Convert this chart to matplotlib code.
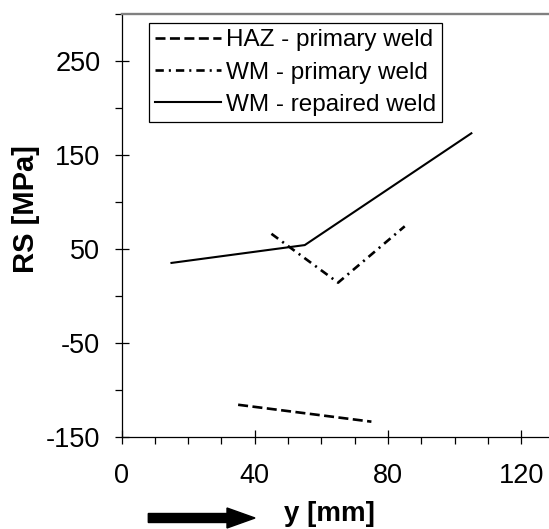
import matplotlib
matplotlib.use("Agg")
import matplotlib.pyplot as plt
from matplotlib.patches import FancyArrow
from matplotlib.ticker import MultipleLocator, FixedLocator

plt.rcParams['font.family'] = ['Liberation Sans', 'DejaVu Sans']
plt.rcParams['lines.scale_dashes'] = False
plt.rcParams['axes.unicode_minus'] = False

# Data
haz_primary_x = [35, 75]
haz_primary_y = [-116, -134]
wm_primary_x = [45, 65, 85]
wm_primary_y = [66, 14, 74]
wm_repaired_x = [15, 55, 105]
wm_repaired_y = [35, 54, 173]

labels = ["HAZ - primary weld", "WM - primary weld", "WM - repaired weld"]
xticks = [0, 40, 80, 120]
yticks = [-150, -50, 50, 150, 250]

W, H = 549, 529
fig = plt.figure(figsize=(W / 100, H / 100), dpi=100)
ax = fig.add_axes([121.5 / W, 1 - 436.7 / H, (548 - 121.5) / W, (436.7 - 14) / H])

l1, = ax.plot(haz_primary_x, haz_primary_y, color='black', lw=1.9, label=labels[0])
l1.set_dashes([7.2, 3.2])
l2, = ax.plot(wm_primary_x, wm_primary_y, color='black', lw=1.9, label=labels[1])
l2.set_dashes([6.0, 3.6, 1.5, 3.6])
l3, = ax.plot(wm_repaired_x, wm_repaired_y, color='black', lw=1.5, label=labels[2])

ax.set_xlim(0, 128)
ax.set_ylim(-150, 300)
ax.xaxis.set_major_locator(FixedLocator(xticks))
ax.xaxis.set_minor_locator(MultipleLocator(10))
ax.yaxis.set_major_locator(FixedLocator(yticks))
ax.yaxis.set_minor_locator(FixedLocator([-100, 0, 100, 200, 300]))

ax.tick_params(which='major', direction='inout', length=10.5, width=0.9,
               labelsize=19.5, color='black')
ax.tick_params(axis='x', which='major', pad=13.5)
ax.tick_params(axis='y', which='major', pad=10)
ax.tick_params(which='minor', direction='out', length=4.8, width=0.9)

ax.spines['right'].set_visible(False)
ax.spines['top'].set_color('#808080')
ax.spines['top'].set_linewidth(1.7)
ax.spines['left'].set_linewidth(0.9)
ax.spines['bottom'].set_linewidth(0.9)

leg = ax.legend(loc='upper left', bbox_to_anchor=(149.3 / W, 1 - 23.3 / H),
                bbox_transform=fig.transFigure, borderaxespad=0,
                fontsize=17.5, frameon=True, fancybox=False, edgecolor='black',
                framealpha=1, handlelength=2.7, handletextpad=0.2,
                labelspacing=0.42, borderpad=0.25)
leg.get_frame().set_linewidth(0.9)

fig.text(26 / W, 1 - 209 / H, "RS [MPa]", rotation=90, ha='center', va='center',
         fontsize=21, fontweight='bold')
fig.text(329 / W, 1 - 521 / H, "y [mm]", ha='center', va='baseline',
         fontsize=20, fontweight='bold')

arrow = FancyArrow(148.3 / W, 1 - 518 / H, (255 - 148.3) / W, 0,
                   width=9 / H, head_width=20 / H, head_length=28 / W,
                   length_includes_head=True, color='black',
                   transform=fig.transFigure)
fig.add_artist(arrow)

fig.savefig("out.png", dpi=100)
